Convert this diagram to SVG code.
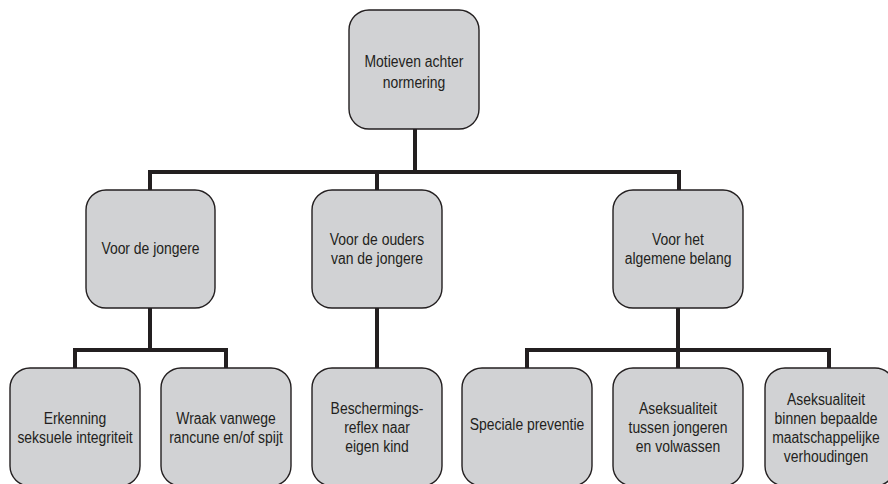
<svg xmlns="http://www.w3.org/2000/svg" width="888" height="484" viewBox="0 0 888 484">
<style>
.box{fill:#d1d2d4;stroke:#231f20;stroke-width:1.4}
.lbl{font-family:"Liberation Sans",Arial,sans-serif;font-size:16px;fill:#231f20;text-anchor:middle}
.con{fill:none;stroke:#231f20;stroke-width:4;stroke-linejoin:miter;stroke-linecap:butt}
</style>
<rect width="888" height="484" fill="#ffffff"/>
<g id="connectors">
<path class="con" d="M415 129 V172"/>
<path class="con" d="M150 190 V172 H679 V190"/>
<path class="con" d="M377 172 V190"/>
<path class="con" d="M150 308 V350"/>
<path class="con" d="M75 368 V350 H226 V368"/>
<path class="con" d="M377 308 V368"/>
<path class="con" d="M678 308 V350"/>
<path class="con" d="M527 368 V350 H829 V368"/>
<path class="con" d="M678 350 V368"/>
</g>
<g id="root">
<rect class="box" x="349" y="10" width="130" height="119" rx="20"/>
<text class="lbl" transform="translate(414 67) scale(0.87 1)">Motieven achter</text>
<text class="lbl" transform="translate(414 87.5) scale(0.87 1)">normering</text>
</g>
<g id="n-jongere">
<rect class="box" x="86" y="190" width="129" height="118" rx="20"/>
<text class="lbl" transform="translate(150.5 253.5) scale(0.87 1)">Voor de jongere</text>
</g>
<g id="n-ouders">
<rect class="box" x="312" y="190" width="130" height="118" rx="20"/>
<text class="lbl" transform="translate(377 245) scale(0.87 1)">Voor de ouders</text>
<text class="lbl" transform="translate(377 264) scale(0.87 1)">van de jongere</text>
</g>
<g id="n-algemeen">
<rect class="box" x="613" y="190" width="130" height="118" rx="20"/>
<text class="lbl" transform="translate(678 245) scale(0.87 1)">Voor het</text>
<text class="lbl" transform="translate(678 264) scale(0.87 1)">algemene belang</text>
</g>
<g id="n-erkenning">
<rect class="box" x="10" y="368" width="130" height="118" rx="20"/>
<text class="lbl" transform="translate(75 423.5) scale(0.87 1)">Erkenning</text>
<text class="lbl" transform="translate(75 442.5) scale(0.87 1)">seksuele integriteit</text>
</g>
<g id="n-wraak">
<rect class="box" x="161" y="368" width="130" height="118" rx="20"/>
<text class="lbl" transform="translate(226 423.5) scale(0.87 1)">Wraak vanwege</text>
<text class="lbl" transform="translate(226 442.5) scale(0.87 1)">rancune en/of spijt</text>
</g>
<g id="n-bescherming">
<rect class="box" x="312" y="368" width="130" height="118" rx="20"/>
<text class="lbl" transform="translate(377 414) scale(0.87 1)">Beschermings-</text>
<text class="lbl" transform="translate(377 433) scale(0.87 1)">reflex naar</text>
<text class="lbl" transform="translate(377 452) scale(0.87 1)">eigen kind</text>
</g>
<g id="n-speciale">
<rect class="box" x="462" y="368" width="130" height="118" rx="20"/>
<text class="lbl" transform="translate(527 430) scale(0.87 1)">Speciale preventie</text>
</g>
<g id="n-aseks1">
<rect class="box" x="613" y="368" width="130" height="118" rx="20"/>
<text class="lbl" transform="translate(678 414) scale(0.87 1)">Aseksualiteit</text>
<text class="lbl" transform="translate(678 433) scale(0.87 1)">tussen jongeren</text>
<text class="lbl" transform="translate(678 452) scale(0.87 1)">en volwassen</text>
</g>
<g id="n-aseks2">
<rect class="box" x="765" y="368" width="130" height="118" rx="20"/>
<text class="lbl" transform="translate(826 405) scale(0.87 1)">Aseksualiteit</text>
<text class="lbl" transform="translate(826 424) scale(0.87 1)">binnen bepaalde</text>
<text class="lbl" transform="translate(826 443) scale(0.87 1)">maatschappelijke</text>
<text class="lbl" transform="translate(826 462) scale(0.87 1)">verhoudingen</text>
</g>
</svg>
